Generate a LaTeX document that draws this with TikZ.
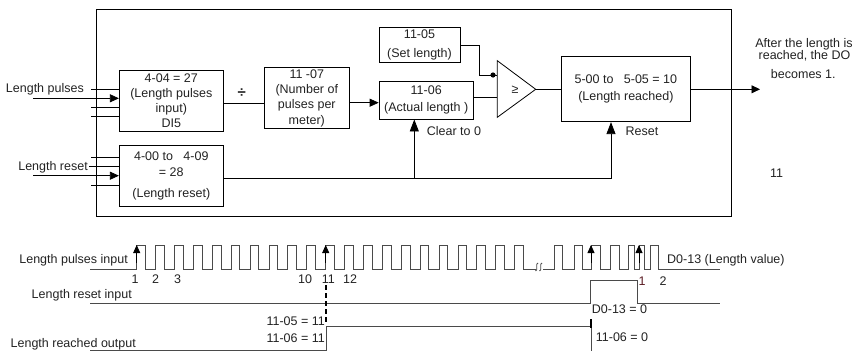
\documentclass[tikz,border=0pt]{standalone}
\usepackage{fontspec}
\setmainfont{Liberation Sans}
\usetikzlibrary{arrows.meta}
\definecolor{txt}{HTML}{222222}
\definecolor{wv}{HTML}{4A4A4A}
\definecolor{numred}{HTML}{5A1A22}
\begin{document}
\begin{tikzpicture}[x=1pt,y=-1pt,
  font=\fontsize{12.5}{15.3}\selectfont,
  every node/.style={text=txt},
  box/.style={draw=black,line width=0.8pt,rectangle,inner sep=0pt,align=center},
  lbl/.style={inner sep=0pt,text height=9pt,text depth=0pt},
  conn/.style={draw=black,line width=0.8pt},
  arr/.style={conn,-{Triangle[length=9pt,width=8pt]}},
  bigarr/.style={conn,-{Triangle[length=12pt,width=9pt]}},
  wave/.style={draw=wv,line width=0.9pt},
  edgearr/.style={draw=black,line width=0.8pt,-{Triangle[length=8pt,width=7pt]}},
]
\useasboundingbox (0,0) rectangle (857,351);

% ---------- block diagram ----------
\node[box,minimum width=635pt,minimum height=207pt] (frame) at (413.5,112.5) {};

\node[box,minimum width=104pt,minimum height=60.7pt] (A) at (171.3,100.65)
  {4-04 = 27\\(Length pulses\\input)\\DI5};
\node[box,minimum width=104pt,minimum height=60.6pt] (B) at (171.3,176)
  {4-00 to\ \ \ 4-09\\= 28\\[6pt](Length reset)};
\node[box,minimum width=85pt,minimum height=61pt] (C) at (306.8,98.2)
  {11 -07\\(Number of\\pulses per\\meter)};
\node[box,minimum width=94.3pt,minimum height=37.7pt] (D) at (426.2,100.2)
  {11-06\\[1.7pt](Actual length )};
\node[box,minimum width=81pt,minimum height=35.4pt] (E) at (419.5,45)
  {11-05\\[3pt](Set length)};
\node[box,minimum width=128.3pt,minimum height=65.7pt] (F) at (625.85,88.85)
  {5-00 to\ \ \ 5-05 = 10\\[1.4pt](Length reached)};

% inputs of A
\node[lbl,anchor=east] (lp) at (84,88.3) {Length pulses};
\coordinate (inA1) at (91,89.3);
\coordinate (inA2) at (33,98.3);
\coordinate (inA3) at (91,107.3);
\coordinate (inA4) at (91,116.7);
\draw[conn] (inA1) -- (inA1 -| A.west);
\draw[arr] (inA2) -- (inA2 -| A.west);
\draw[conn] (inA3) -- (inA3 -| A.west);
\draw[conn] (inA4) -- (inA4 -| A.west);

% inputs of B
\node[lbl,anchor=east] (lr) at (88,166) {Length reset};
\coordinate (inB1) at (91,157.3);
\coordinate (inB2) at (89,166);
\coordinate (inB3) at (33,175.7);
\coordinate (inB4) at (91,185);
\draw[conn] (inB1) -- (inB1 -| B.west);
\draw[conn] (inB2) -- (inB2 -| B.west);
\draw[arr] (inB3) -- (inB3 -| B.west);
\draw[conn] (inB4) -- (inB4 -| B.west);

% A -> C -> D
\coordinate (ac) at (0,103.3);
\draw[conn] (A.east |- ac) -- (C.west |- ac);
\node[lbl,font=\fontsize{15}{15}\bfseries] (div) at (241.7,93.3) {÷};
\coordinate (cd) at (0,102.7);
\draw[arr] (C.east |- cd) -- (D.west |- cd);

% comparator
\coordinate (cmpT) at (497.3,60.7);
\coordinate (cmpB) at (497.3,117.3);
\coordinate (cmpTip) at (535.7,89.3);
\draw[conn,line join=miter] (cmpT) -- (cmpTip) -- (cmpB) -- cycle;
\node[lbl] (ge) at (515,89.3) {≥};
\coordinate (cin1) at (497.3,75);
\coordinate (cin2) at (497.3,97.7);
\coordinate (ej) at (479,45);
\coordinate (dot) at (493,75);
\draw[conn] (E.east |- ej) -- (ej) -- (ej |- cin1) -- (cin1);
\fill[black] (dot) circle (2.6pt);
\draw[conn] (D.east |- cin2) -- (cin2);
\draw[conn] (cmpTip) -- (cmpTip -| F.west);

% output
\coordinate (outEnd) at (760,89.3);
\draw[conn,-{Triangle[length=8.5pt,width=8pt]}] (F.east |- outEnd) -- (outEnd);
\node[lbl] (o1) at (804,42.7) {After the length is};
\node[lbl] (o2) at (804.5,55) {reached, the DO};
\node[lbl] (o3) at (803.3,74) {becomes 1.};
\node[lbl] (eleven) at (776.7,173.3) {11};

% clear / reset
\coordinate (rst) at (611,178.3);
\coordinate (clr) at (414.3,178.3);
\draw[bigarr] (B.east |- rst) -- (rst) -- (rst |- F.south);
\draw[bigarr] (clr) -- (clr |- D.south);
\node[lbl,anchor=west] (clrl) at (426.7,130.7) {Clear to 0};
\node[lbl] (rstl) at (642,130.7) {Reset};

% ---------- timing diagram ----------
\node[lbl,anchor=east] (w1) at (128,259) {Length pulses input};
\node[lbl,anchor=east] (w2) at (132,294) {Length reset input};
\node[lbl,anchor=east] (w3) at (136,342.7) {Length reached output};

% pulses
\draw[wave] (90,269) \foreach \k in {0,...,20}{ -- ({136.7+18.9*\k},269) -- ++(0,-24) -- ++(8.7,0) -- ++(0,24) } -- (536,269);
\draw[wave] (535.5,271) .. controls (538.5,271) and (535,263) .. (538,263);
\draw[wave] (539.5,271) .. controls (542.5,271) and (539,263) .. (542,263);
\draw[wave] (543,269) \foreach \r/\f in {554/562.7,574/582,591/600,610/619,628/634,639/644,650/658}{ -- (\r,269) -- (\r,245) -- (\f,245) -- (\f,269)} -- (720,269);
\foreach \x in {136.7,325.7,591,639}{ \draw[edgearr] (\x,263) -- (\x,245); }
\node[lbl,anchor=west] (dv) at (667,259) {D0-13 (Length value)};

% pulse numbers
\node[lbl] (n1) at (135,278.5) {1};
\node[lbl] (n2) at (155.7,278.5) {2};
\node[lbl] (n3) at (177.7,278.5) {3};
\node[lbl] (n10) at (305,278.5) {10};
\node[lbl] (n11) at (328.3,278.5) {11};
\node[lbl] (n12) at (350,278.5) {12};
\node[lbl,text=numred] (m1) at (642,280.7) {1};
\node[lbl] (m2) at (663,280.7) {2};

% reset input
\draw[wave] (90,303.3) -- (590.7,303.3) -- (590.7,280.7) -- (637.3,280.7) -- (637.3,303.3) -- (720,303.3);
\node[lbl,anchor=west] (d0) at (591.7,309.3) {D0-13 = 0};

% length reached output
\draw[black,line width=2pt,dash pattern=on 5pt off 3pt] (326,285) -- (326,322);
\draw[wave] (90,350) -- (326,350) -- (326,326.7) -- (591,326.7) -- (591,351);
\draw[black,line width=2pt] (591,319) -- (591,328);
\node[lbl,anchor=east] (s5) at (325,320.7) {11-05 = 11};
\node[lbl,anchor=east] (s6) at (325,338.3) {11-06 = 11};
\node[lbl,anchor=west] (z6) at (595.7,336.7) {11-06 = 0};
\end{tikzpicture}
\end{document}
